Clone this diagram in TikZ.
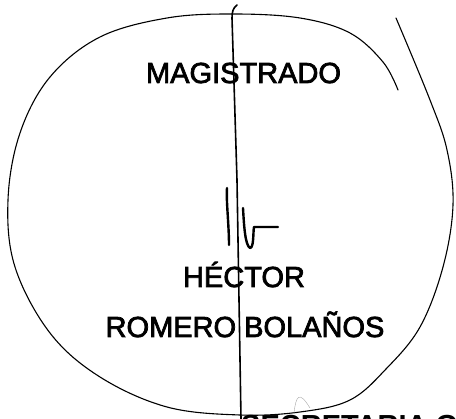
\documentclass[tikz,border=0pt]{standalone}
\usepackage{fontspec}
\setmainfont{Liberation Sans}
\newfontfamily\inkfont[FakeBold=2.5]{Liberation Sans}
\tikzset{
  ink/.style={line width=1.1pt, line cap=round, line join=round, black},
  pen/.style={line width=1.6pt, line cap=round, line join=round, black},
  sig/.style={line width=2.4pt, line cap=round, line join=round, black},
  label/.style={inner sep=0pt, anchor=base, font=\inkfont\fontsize{29}{29}\selectfont},
  faint/.style={line width=0.4pt, gray!70}
}
\begin{document}
\begin{tikzpicture}[x=1pt,y=-1pt]
\useasboundingbox (0,0) rectangle (456,419);
\clip (0,0) rectangle (456,419);
% main loop
\draw[ink] plot[smooth, tension=0.6] coordinates {
 (398,90) (383,62) (350,33) (300,18) (233,14) (167,18) (100,37) (50,77)
 (20,133) (8,200) (15,267) (50,333) (100,377) (167,407) (240,415)
 (300,412) (350,400) (386,369) (420,327) (443,267) (453,205) (447,150)
 (430,100) (396,18)};
% vertical line
\coordinate (vtop) at (237,5);
\coordinate (vbot) at (241,419);
\draw[pen] (vtop) .. controls (233,8) and (232,12) .. (232,18) -- (237,180) -- (vbot);
% signature
\draw[sig] (227,188) .. controls (226,200) and (229,225) .. (229,245);
\draw[sig] (243,208) .. controls (244,225) and (245,245) .. (250,248)
  .. controls (254,248) and (253,232) .. (254,227) -- (278,227);
% faint mark
\draw[faint] (294,413) .. controls (296,396) and (299,390) .. (310,408);
% texts
\node[label] (mag) at (243.5,83) {MAGISTRADO};
\node[label] (hec) at (244,287) {HÉCTOR};
\node[label] (rom) at (245,337) {ROMERO BOLAÑOS};
\node[inner sep=0pt, anchor=base west, font=\fontsize{29}{29}\selectfont\bfseries] (sec) at (241,436) {SECRETARIA G};
\end{tikzpicture}
\end{document}
